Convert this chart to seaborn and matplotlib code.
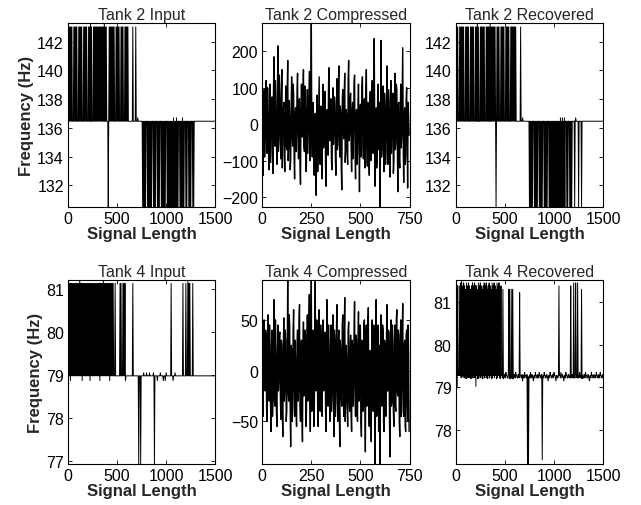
import numpy as np
import matplotlib
matplotlib.use("Agg")
import matplotlib.pyplot as plt
import seaborn as sns

# --- data -------------------------------------------------------------------
# frequency traces: one character per 10 samples, each character is a pair of
# readings 5 samples apart (a pulse or a flat stretch), levels
in_step = 5
cmp_step = 2.5

t2_levels = {'X': (143.02, 136.46), 'T': (143.27, 136.46), 'b': (136.46, 136.46),
             'u': (136.7, 136.46), 'Y': (130.5, 136.46), 'W': (130.5, 136.7)}
t2_input = ("XXXXXbXXXXbXXXXbXXXXbXXTXbXXXX"
            "XXXXXXXTXXbYXXXXXXbXXXXbXXXbXX"
            "XXbbbbXbbXbubbbbYYYYbYYYYYbYYY"
            "bYYYbYYYYYbYYYYYYWYYWYYbYYWYYb"
            "YYbYYYbYYbbbbbbbbbbbbbbbbbbbbbb")
t2_recovered = ("XXXbXXXXXbXXXXbXXXXbXXTXbXXXXX"
                "bXXXXTXXXXXYXXXbXXXXbXXXXbXXXX"
                "XXbbbbXbubbbbbbYYYYbYYYYbYYYYb"
                "YYYYbYYYYYYYYYYYWYWYWYbYYbYYYb"
                "bYubbYbbYbbbbbbbbbbbbbbbbbbbbbb")

t4_in_levels = {'X': (81.12, 78.98), 'T': (81.19, 78.98), 'Z': (81.12, 78.87),
                'b': (78.98, 78.98), 'u': (79.05, 78.98), 'd': (78.87, 78.98),
                'Y': (76.94, 78.98)}
t4_input = ("XXZXXXXXXXXXTXZXXXXXXXZXXXXXXX"
            "XXZXXXTXXXXXZXXXXbXbbbbXXbXXZb"
            "bbbbbbXbbbbbYbYbbubbubbubbbuYb"
            "bdbbubbdbdubbbbXbdbubbbbbbbXbb"
            "XbTXXbbXbbbbbbbbbbbbbbbbbbbbbbb")

t4_rec_levels = {'Z': (81.51, 79.25), 'A': (81.45, 79.22), 'B': (81.38, 79.28),
                 'C': (81.30, 79.20), 'D': (81.22, 79.30), 'E': (81.40, 79.02),
                 'p': (79.35, 79.28), 'q': (79.28, 79.22), 'r': (79.22, 79.30),
                 's': (79.15, 79.27), 'L': (77.2, 79.25), 'M': (77.3, 79.26)}
t4_recovered = ("CEBpBAZBABCABABCBABAEBCABABCBA"
                "BACBABCABABCABACBqCrqpqrCCqCCr"
                "qpqrqDqrsqpqrLLqprqsqpqrqpqrMq"
                "pqrqsqpqrqpqsqrBqprqsqpqrqqBrq"
                "ArAqAqpqCqrqpqrqsqpqrqqpqrqpqrq")

# compressed traces, one value per 2.5 samples
t2_compressed = [
    60, -20, -140, 45, 95, -90, -30, 70, 120, -40, -80, 100, 40, -60, -125, 15, 110, -105, -20, 55, 75, -70, -135, 90, 185, -15, -60, 120, 30, -50,
    -110, 80, 215, -75, -45, 135, 90, -30, -95, 60, 150, -120, -15, 40, 60, -85, -130, 20, 105, -55, -70, 95, 175, -100, -40, 65, 20, -125, -100, 50,
    130, -30, -60, 110, 85, -90, -150, 25, 45, -75, -20, 95, 140, -45, -95, 60, 70, -110, -165, 35, 110, -10, -35, 85, 150, -60, -75, 105, 40, -130,
    -120, 30, 95, -80, -5, 60, 145, -100, -50, 75, 277, -40, -90, 20, 60, -115, -140, 10, 30, -70, -195, 45, 80, -130, -60, 35, 130, -85, -110, 15,
    50, -95, -150, 40, 110, -65, -30, 80, 90, -120, -170, 25, 40, -60, -85, 105, 155, -25, -45, 60, 70, -100, -125, 35, 100, -55, -10, 75, 60, -90,
    -140, 20, 125, -70, -55, 95, 160, -35, -90, 50, 30, -120, -180, 65, 95, -15, -40, 85, 140, -105, -70, 40, 20, -80, -110, 125, 175, -45, -25, 70,
    85, -60, -130, 30, 60, -95, -5, 110, 135, -70, -150, 15, 40, -110, -75, 55, 110, -40, -185, 20, 55, -90, -20, 100, 130, -55, -95, 35, 70, -120,
    -60, 90, 150, -35, -115, 60, 35, -85, -140, 45, 90, -100, -30, 70, 120, -65, -80, 140, 235, -20, -170, 30, 45, -120, -95, 80, 110, -70, -40, 60,
    -227, 40, 230, -90, -60, 75, 105, -45, -130, 85, 40, -110, -75, 50, 160, -30, -110, 95, 70, -60, -145, 25, 120, -80, -20, 65, 85, -135, -105, 45,
    140, -70, -50, 110, 95, -40, -185, 55, 60, -95, -120, 30, 110, -65, -30, 85, 210, -50, -160, 20, 45, -110, -90, 70, 100, -45, -175, 60, 20, -30,
]
t4_compressed = [
    10, -25, -45, 30, 50, -10, -20, 40, 35, -40, -50, 20, 55, -15, -30, 45, 15, -35, -60, 25, 40, -45, -25, 10, 70, -30, -35, 50, 20, -40,
    -55, 15, 45, -20, -10, 35, 38, -25, -48, 30, 25, -40, -65, 20, 52, -30, -15, 40, 30, -50, -40, 15, 89, -20, -30, 55, 45, -35, -75, 25,
    20, -50, -35, 40, 60, -15, -45, 30, 10, -40, -55, 25, 40, -30, -20, 50, 65, -35, -50, 15, 30, -45, -70, 20, 48, -25, -15, 40, 35, -55,
    -45, 20, 55, -30, -25, 45, 75, -20, -60, 35, 89, -40, -30, 25, 40, -55, -50, 30, 88, -15, -20, 50, 35, -45, -55, 20, 60, -35, -40, 45,
    25, -30, -45, 40, 50, -20, -10, 35, 38, -40, -60, 15, 70, -25, -35, 45, 15, -30, -50, 25, 45, -40, -25, 30, 55, -20, -65, 40, 30, -45,
    -20, 35, 65, -30, -50, 25, 40, -40, -75, 30, 20, -25, -35, 45, 55, -20, -45, 35, 72, -50, -30, 25, 10, -35, -55, 40, 48, -30, -40, 20,
    35, -45, -60, 30, 25, -35, -15, 40, 68, -25, -45, 35, 30, -40, -50, 25, 58, -30, -25, 45, 40, -50, -65, 30, 20, -40, -35, 45, 50, -25,
    -80, 30, 45, -35, -30, 40, 62, -45, -55, 20, 15, -40, -70, 35, 50, -25, -40, 45, 35, -55, -92, 30, 70, -45, -25, 35, 45, -60, -50, 25,
    -92, 40, 55, -30, -35, 45, 40, -50, -60, 30, 25, -40, -45, 35, 65, -20, -20, 40, 38, -45, -85, 25, 50, -35, -30, 45, 20, -40, -55, 30,
    45, -35, -40, 50, 60, -20, -25, 40, 35, -50, -65, 30, 50, -45, -15, 35, 66, -40, -45, 25, 30, -55, -60, 35, 40, -30, -50, 45, 15, -60,
]

titles = ["Tank 2 Input", "Tank 2 Compressed", "Tank 2 Recovered",
          "Tank 4 Input", "Tank 4 Compressed", "Tank 4 Recovered"]
in_xticks = [0, 500, 1000, 1500]
cmp_xticks = [0, 250, 500, 750]
t2_yticks = [132, 134, 136, 138, 140, 142]
t2c_yticks = [-200, -100, 0, 100, 200]
t4_in_yticks = [77, 78, 79, 80, 81]
t4c_yticks = [-50, 0, 50]
t4_rec_yticks = [78, 79, 80, 81]


def decode(code, levels):
    return np.array([v for c in code for v in levels[c]])


sns.set_theme(style="ticks")
plt.rcParams['font.family'] = ['Liberation Sans', 'DejaVu Sans']
plt.rcParams['axes.linewidth'] = 0.8
plt.rcParams['axes.edgecolor'] = 'black'

# (trace, step, xticks, yticks, xmax, line width)
panels = [
    (decode(t2_input, t2_levels), in_step, in_xticks, t2_yticks, 1500, 0.7),
    (np.array(t2_compressed, float), cmp_step, cmp_xticks, t2c_yticks, 750, 1.0),
    (decode(t2_recovered, t2_levels), in_step, in_xticks, t2_yticks, 1500, 0.7),
    (decode(t4_input, t4_in_levels), in_step, in_xticks, t4_in_yticks, 1500, 0.7),
    (np.array(t4_compressed, float), cmp_step, cmp_xticks, t4c_yticks, 750, 1.0),
    (decode(t4_recovered, t4_rec_levels), in_step, in_xticks, t4_rec_yticks, 1500, 0.7),
]

fig = plt.figure(figsize=(6.41, 5.06), dpi=100)
lefts = [0.106, 0.409, 0.711]
bottoms = [0.589, 0.081]
w, h = 0.230, 0.363

for i, (y, step, xt, yt, xmax, lw) in enumerate(panels):
    r, c = divmod(i, 3)
    ax = fig.add_axes([lefts[c], bottoms[r], w, h])
    x = np.arange(len(y)) * step
    sns.lineplot(x=x, y=y, ax=ax, color='black', linewidth=lw,
                 estimator=None, sort=False)
    ax.set_xlim(0, xmax)
    ax.set_ylim(y.min(), y.max())
    ax.set_xticks(xt)
    ax.set_yticks(yt)
    ax.tick_params(direction='in', top=True, right=True, length=3,
                   width=0.6, labelsize=11.5, pad=3, colors='black')
    for s in ax.spines.values():
        s.set_visible(True)
        s.set_color('black')
    ax.set_title(titles[i], fontsize=11.5, pad=3)
    ax.set_xlabel("Signal Length", fontweight='bold', fontsize=12, labelpad=0)
    if c == 0:
        ax.set_ylabel("Frequency (Hz)", fontweight='bold', fontsize=12, labelpad=2)

fig.savefig("out.png", dpi=100, facecolor='white')
